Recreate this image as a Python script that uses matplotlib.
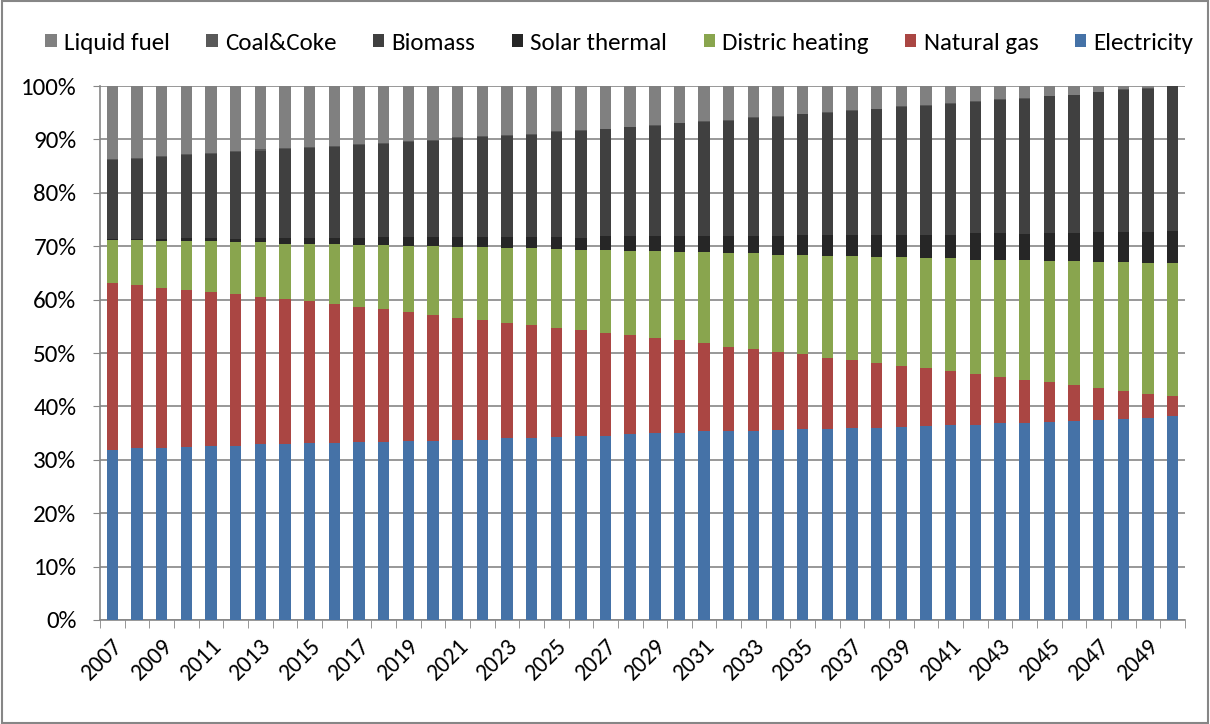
import matplotlib
matplotlib.use("Agg")
import matplotlib.pyplot as plt
import matplotlib.transforms as mtransforms
import numpy as np
from matplotlib.patches import Rectangle

plt.rcParams["font.family"] = ["Carlito", "Liberation Sans", "DejaVu Sans"]

years = list(range(2007, 2051))

# shares in %, bottom to top
electricity = [31.9, 32.2, 32.2, 32.4, 32.6, 32.6, 32.9, 32.9, 33.1, 33.1, 33.4,
               33.4, 33.6, 33.6, 33.8, 33.8, 34.1, 34.1, 34.3, 34.5, 34.5, 34.8,
               35.0, 35.1, 35.3, 35.4, 35.5, 35.6, 35.7, 35.8, 35.9, 36.0, 36.2,
               36.3, 36.5, 36.6, 36.8, 36.9, 37.1, 37.3, 37.5, 37.7, 37.9, 38.2]
natural_gas = [31.2, 30.5, 30.0, 29.4, 28.9, 28.5, 27.7, 27.2, 26.6, 26.2, 25.4,
               24.9, 24.0, 23.5, 22.8, 22.4, 21.6, 21.1, 20.5, 19.8, 19.3, 18.6,
               17.8, 17.3, 16.6, 15.8, 15.3, 14.7, 14.1, 13.3, 12.8, 12.2, 11.4,
               10.8, 10.1, 9.5, 8.7, 8.1, 7.5, 6.8, 5.9, 5.2, 4.5, 3.7]
district_heating = [8.1, 8.5, 8.8, 9.3, 9.5, 9.7, 10.2, 10.4, 10.8, 11.1, 11.6,
                    12.0, 12.5, 13.0, 13.2, 13.6, 13.9, 14.4, 14.7, 15.1, 15.5, 15.8,
                    16.3, 16.5, 17.0, 17.5, 18.0, 18.2, 18.6, 19.1, 19.5, 19.7, 20.3,
                    20.6, 21.2, 21.4, 22.0, 22.5, 22.7, 23.2, 23.7, 24.2, 24.5, 25.0]
solar_thermal = [0.1, 0.2, 0.3, 0.5, 0.5, 0.7, 0.8, 1.0, 1.0, 1.2, 1.2,
                 1.4, 1.6, 1.6, 1.9, 1.9, 2.1, 2.1, 2.3, 2.3, 2.6, 2.8,
                 2.8, 3.0, 3.0, 3.2, 3.2, 3.5, 3.7, 3.9, 3.9, 4.2, 4.2,
                 4.4, 4.4, 4.9, 4.9, 4.9, 5.2, 5.2, 5.5, 5.5, 5.7, 5.9]
biomass = [14.8, 15.0, 15.4, 15.5, 15.7, 16.2, 16.4, 16.7, 16.9, 17.1, 17.6,
           17.5, 17.8, 18.0, 18.5, 18.7, 19.0, 19.2, 19.6, 19.9, 20.0, 20.4,
           20.7, 21.1, 21.4, 21.6, 22.1, 22.3, 22.6, 22.9, 23.3, 23.5, 24.0,
           24.2, 24.6, 24.6, 25.0, 25.3, 25.7, 25.9, 26.2, 26.7, 26.9, 27.2]
coal_coke = [0.2, 0.2, 0.2, 0.2, 0.2, 0.2, 0.2, 0.2, 0.2, 0.2, 0.2,
             0.2, 0.2, 0.2, 0.2, 0.2, 0.2, 0.2, 0.2, 0.2, 0.1, 0.1,
             0.1, 0.1, 0.1, 0.1, 0.1, 0.1, 0.1, 0.1, 0.1, 0.1, 0.1,
             0.1, 0.1, 0.1, 0.1, 0.1, 0.1, 0.1, 0.1, 0.1, 0.1, 0.0]
liquid_fuel = [13.7, 13.4, 13.1, 12.8, 12.6, 12.2, 11.9, 11.6, 11.4, 11.2, 10.8,
               10.6, 10.3, 10.1, 9.6, 9.4, 9.1, 8.9, 8.5, 8.3, 8.0, 7.6,
               7.3, 6.9, 6.6, 6.4, 5.9, 5.7, 5.2, 4.9, 4.5, 4.3, 3.8,
               3.6, 3.2, 2.9, 2.5, 2.3, 1.8, 1.6, 1.1, 0.6, 0.4, 0.0]

series = [
    ("Electricity", electricity, "#4572A7"),
    ("Natural gas", natural_gas, "#AA4643"),
    ("Distric heating", district_heating, "#89A54E"),
    ("Solar thermal", solar_thermal, "#262626"),
    ("Biomass", biomass, "#404040"),
    ("Coal&Coke", coal_coke, "#595959"),
    ("Liquid fuel", liquid_fuel, "#808080"),
]

# 100% stacked: normalise each year
data = np.array([s[1] for s in series], dtype=float)
data = data / data.sum(axis=0) * 100

fig = plt.figure(figsize=(12.1, 7.24), dpi=100)
ax = fig.add_axes([100 / 1210, 1 - 620 / 724, 1085 / 1210, 534 / 724])

x = np.arange(len(years))
bottom = np.zeros(len(years))
handles = []
for (name, _, color), vals in zip(series, data):
    h = ax.bar(x, vals, 0.46, bottom=bottom, color=color, label=name, zorder=3)
    handles.append(h)
    bottom += vals

grid_c = "#868686"
ax.set_xlim(-0.5, len(years) - 0.5)
ax.set_ylim(0, 100)
ax.set_yticks(np.arange(0, 101, 10))
ax.set_yticklabels([f"{v}%" for v in range(0, 101, 10)], fontsize=18)
ax.yaxis.grid(True, color=grid_c, linewidth=1.2, zorder=0)
ax.tick_params(axis="y", length=5, color=grid_c, pad=12)

ax.set_xticks(x[::2])
ax.set_xticklabels([str(y) for y in years[::2]], rotation=45, ha="right",
                   rotation_mode="anchor", fontsize=17)
ax.set_xticks(np.arange(-0.5, len(years), 1), minor=True)
ax.tick_params(axis="x", which="major", length=0, pad=11)
ax.tick_params(axis="x", which="minor", length=6, color=grid_c)

for side in ("top", "right"):
    ax.spines[side].set_visible(False)
for side in ("left", "bottom"):
    ax.spines[side].set_color(grid_c)
    ax.spines[side].set_linewidth(1.2)

fig.legend(handles[::-1], [s[0] for s in series][::-1], loc="center",
           bbox_to_anchor=(0.512, 1 - 43 / 724), ncol=7, frameon=False,
           fontsize=18, handlelength=0.45, handleheight=0.45, handletextpad=0.3,
           columnspacing=1.45)

fig.patches.append(Rectangle((0.002, 0.002), 0.996, 0.996, transform=fig.transFigure,
                             fill=False, edgecolor=grid_c, linewidth=1.5))

fig.savefig("out.png", dpi=100)
